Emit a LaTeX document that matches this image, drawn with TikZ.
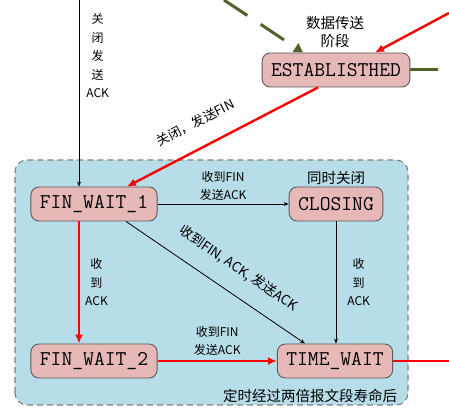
\documentclass[tikz,border=0pt]{standalone}
\usepackage{fontspec}
\newfontfamily\cjk{Noto Sans CJK SC}
\usetikzlibrary{arrows.meta}
\definecolor{statefill}{RGB}{230,185,184}
\definecolor{zonefill}{RGB}{183,221,232}
\definecolor{darkgreen}{RGB}{79,98,40}
\definecolor{bordergray}{RGB}{90,90,90}

\begin{document}
\begin{tikzpicture}[x=1pt, y=1pt,
    state/.style={draw=bordergray, line width=0.9pt, fill=statefill, rounded corners=8pt,
        font=\ttfamily\fontsize{21}{21}\selectfont, inner xsep=9pt, minimum height=34pt},
    lab/.style={font=\cjk\fontsize{12}{18.5}\selectfont, text=black, inner sep=1pt, align=center},
    biglab/.style={font=\cjk\fontsize{14.5}{18}\selectfont, text=black, inner sep=1pt, align=center},
    thinline/.style={black, line width=0.8pt, -{Stealth[length=5pt, width=4pt]}},
    redline/.style={red, line width=2.4pt},
    redarrow/.style={redline, -{Latex[length=9pt, width=8pt]}}]
    \useasboundingbox (0, 0) rectangle (449, 419);

    \draw[draw=gray, line width=1.1pt, dash pattern=on 6pt off 4pt, fill=zonefill, rounded corners=12pt] (15, 14) rectangle (408, 259);

    \node[state] (est) at (336, 349) {ESTABLISTHED};
    \node[state] (fw1) at (94, 215) {FIN\_WAIT\_1};
    \node[state] (closing) at (336, 215) {CLOSING};
    \node[state] (fw2) at (94, 58) {FIN\_WAIT\_2};
    \node[state] (tw) at (335, 58) {TIME\_WAIT};

    \coordinate (closetop) at (79, 419);
    \coordinate (greentop) at (224, 419);
    \coordinate (redtop) at (449, 406);
    \coordinate (greenright) at (438, 349);
    \coordinate (redright) at (449, 58);

    \draw[thinline] (closetop) -- (closetop |- fw1.north)
        node[lab, pos=0.3, right=6pt] {关\\闭\\发\\送\\ACK};
    \draw[darkgreen, line width=3pt, dash pattern=on 28pt off 16pt, -{Triangle[length=9pt, width=10pt]}]
        (greentop) -- ([xshift=-33pt]est.north);
    \draw[redarrow] (redtop) -- ([xshift=39pt]est.north);
    \draw[darkgreen, line width=3pt] (est.east) -- (greenright);
    \node[biglab] (datalab) at (335, 387) {数据传送\\阶段};

    \draw[redarrow] ([xshift=-18pt]est.south) -- ([xshift=33pt]fw1.north)
        node[lab, font=\cjk\fontsize{13}{16}\selectfont, pos=0.58, sloped, above=17pt] {关闭，发送FIN};

    \draw[thinline] (fw1.east) -- (closing.west)
        node[lab, midway, above=2pt] {收到FIN\\发送ACK};
    \node[biglab, above=1pt] (samelab) at (closing.north) {同时关闭};

    \draw[redarrow] ([xshift=-15pt]fw1.south) -- ([xshift=-15pt]fw2.north)
        node[lab, midway, right=4pt] {收\\到\\ACK};
    \draw[thinline] ([xshift=32pt]fw1.south) -- ([xshift=-30pt]tw.north)
        node[lab, font=\cjk\fontsize{13.5}{16}\selectfont, pos=0.55, sloped, above=16pt] {收到FIN, ACK, 发送ACK};
    \draw[thinline] (closing.south) -- (closing.south |- tw.north)
        node[lab, midway, right=10pt] {收\\到\\ACK};

    \draw[redarrow] (fw2.east) -- (tw.west)
        node[lab, midway, above=3pt] {收到FIN\\发送ACK};
    \draw[redline] (tw.east) -- (redright);
    \node[biglab] (timerlab) at (310, 23) {定时经过两倍报文段寿命后};

\end{tikzpicture}
\end{document}
